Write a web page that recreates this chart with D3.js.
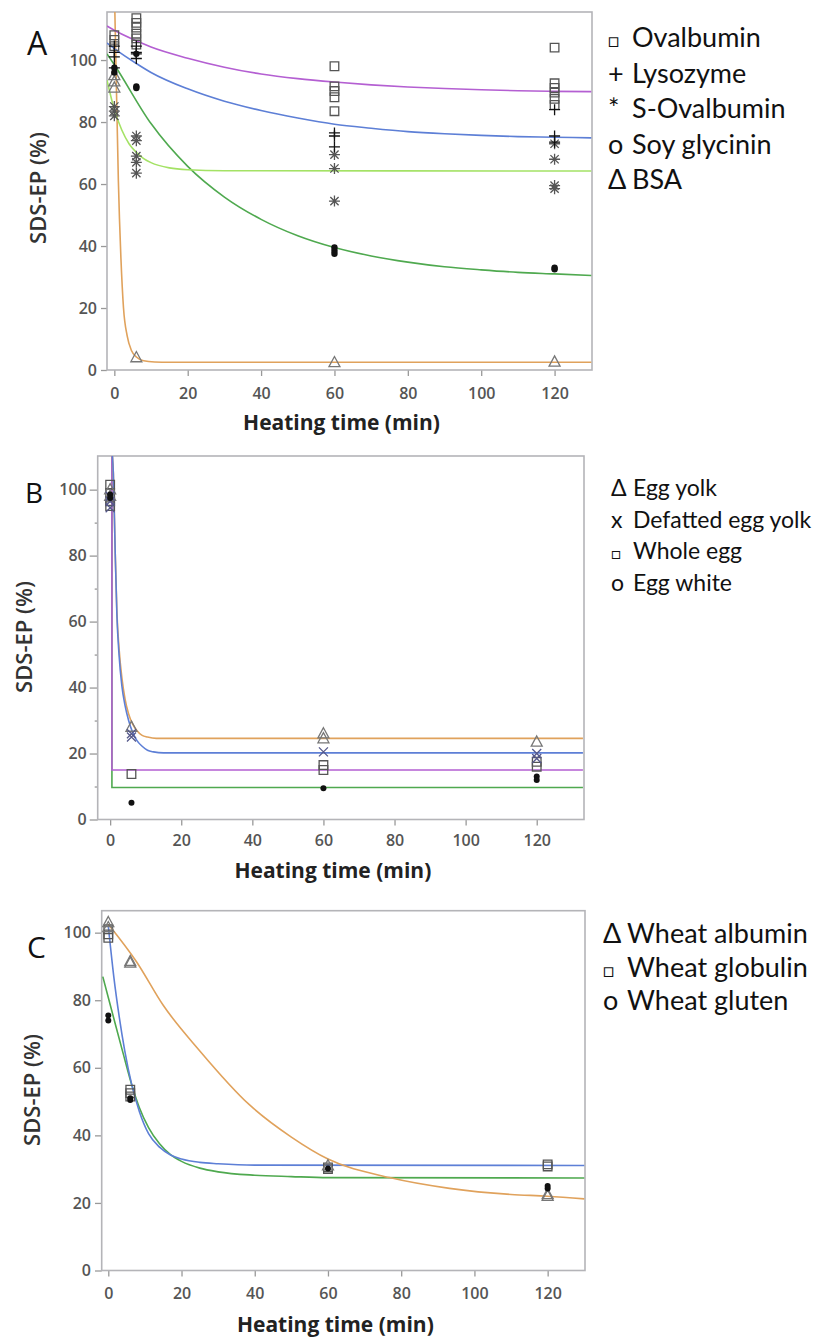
<!DOCTYPE html>
<html>
<head>
<meta charset="utf-8">
<script src="https://cdn.jsdelivr.net/npm/d3@7"></script>
<style>
  body { margin: 0; background: #fff; }
  svg { display: block; }
</style>
</head>
<body>
<svg id="chart" width="826" height="1341"></svg>
<script>
// ---------- panel A : pure proteins  ([heating time (min), SDS-EP (%)])
const xTicks = [0, 20, 40, 60, 80, 100, 120];
const yTicks = [0, 20, 40, 60, 80, 100];
const yMinorB = [10, 30, 50, 70, 90];

const ovalbuminA = [[0,108],[0,106.5],[0,104.5],[6,113.5],[6,112],[6,110.5],[6,108.5],[6,107],[6,105],
  [60,98],[60,91.5],[60,90],[60,88],[60,83.5],[120,104],[120,92.5],[120,91],[120,89.5],[120,87.5],[120,85.5]];
const lysozymeA = [[0,104.5],[0,102.5],[0,101],[0,97.5],[6,104.5],[6,102.5],[6,102],[6,100.5],
  [60,76.5],[60,75.5],[60,72],[120,84],[120,75.5],[120,73.5]];
const sOvalbuminA = [[0,85],[0,83.5],[0,82],[6,75.5],[6,74],[6,69],[6,67],[6,63.5],
  [60,69.5],[60,65],[60,54.5],[120,73],[120,68],[120,59.5],[120,58.5]];
const soyA = [[0,97.5],[0,96],[6,102],[6,91.5],[6,91],[60,39.5],[60,38.5],[60,37.5],[120,33],[120,32.5]];
const bsaA = [[0,95],[0,93],[0,91],[6,4],[60,2.4],[120,2.6]];

// fitted curves
const ovalbuminFitA = [[-2,111],[0,109.6],[6,106.2],[10,104.2],[20,100.6],[30,97.7],[40,95.5],[50,94],[60,92.9],
  [70,92],[80,91.3],[90,90.8],[100,90.4],[110,90.1],[120,89.9],[130,89.8]];
const lysozymeFitA = [[-2,105.5],[0,103.7],[6,98.9],[10,96],[20,90.7],[30,86.7],[40,83.7],[50,81.3],[60,79.3],
  [70,78],[80,76.9],[90,76.2],[100,75.7],[110,75.3],[120,75.1],[130,74.9]];
const sOvalbuminFitA = [[-2,93.5],[0,84],[2,77.5],[4,73],[6,70.2],[8,68.2],[10,66.9],[15,65.2],[20,64.6],[30,64.3],[130,64.2]];
const soyFitA = [[-2,102],[0,98.5],[10,79.5],[20,65.7],[30,55.8],[40,48.6],[50,43.3],[60,39.5],[70,36.8],
  [80,34.8],[90,33.3],[100,32.3],[110,31.5],[120,31],[130,30.5]];
const bsaFitA = [[0.1,118],[0.5,95],[1.1,61],[1.8,36],[2.5,20],[3.5,11],[4.7,6.2],[6,4.2],[8,3],[11,2.6],[15,2.5],[130,2.5]];

// ---------- panel B : egg fractions
const eggYolkB = [[0,100],[0,98],[6,28],[60,26],[60,24.5],[120,23.5]];
const defattedB = [[0,98],[0,96.5],[0,94.5],[6,26],[6,25],[60,20.5],[120,20],[120,18.5]];
const wholeEggB = [[0,101.5],[0,99],[0,96.5],[0,95],[6,13.8],[60,16.5],[60,15],[120,17.5],[120,16]];
const eggWhiteB = [[0,98.5],[0,97.5],[6,5.1],[60,9.5],[120,13],[120,12]];

const eggYolkFitB = [[0.5,112],[0.9,105],[1.4,82],[1.9,63],[2.5,52],[3.3,43],[4.2,36.5],[5.2,32],[6.3,29],
  [7.5,27],[9,25.5],[10.5,25],[13,24.6],[133,24.6]];
const defattedFitB = [[0.5,112],[0.9,105],[1.4,82],[1.9,62],[2.5,50],[3.3,40.5],[4.2,34.5],[5.2,30],[6.3,26.5],
  [7.5,24],[9,22.2],[10.5,21],[12.2,20.5],[15,20.2],[133,20.2]];
const wholeEggFitB = [[0.5,112],[0.5,15],[133,15]];
const eggWhiteFitB = [[0.5,112],[0.5,9.7],[133,9.7]];

// ---------- panel C : wheat fractions
const albuminC = [[0,103],[0,101.5],[6,91.5],[6,91],[60,31],[120,22.5],[120,22]];
const globulinC = [[0,101],[0,99.5],[0,98.5],[6,53.5],[6,52.5],[6,51.5],[60,30.5],[60,30],[120,31.4],[120,30.8]];
const glutenC = [[0,75.5],[0,74],[6,51],[6,50.5],[60,30.2],[120,25],[120,24.3]];

const albuminFitC = [[0,102.5],[7.7,91.4],[15,78.5],[25,65],[38.6,49],[50,39.5],[60,33],[76.8,27.5],
  [93.2,24.3],[110,22.5],[120,22],[130,21.2]];
const globulinFitC = [[0,102],[1.5,87],[3,75],[4.5,65],[6.4,55],[8.5,47],[11,40.5],[14,36.5],[17,34.2],
  [20,33],[25,32],[30,31.6],[40,31.2],[130,31.1]];
const glutenFitC = [[-1.5,87],[0,80.8],[2,72.6],[4,64.5],[6.4,55],[8.5,48.2],[11,42.3],[14,37.5],[17,34.3],
  [20,32.3],[25,30.3],[30,29.2],[40,28.2],[50,27.8],[60,27.5],[130,27.4]];

const legendA = [["\u25A1","Ovalbumin"],["+","Lysozyme"],["*","S-Ovalbumin"],["o","Soy glycinin"],["\u0394","BSA"]];
const legendB = [["\u0394","Egg yolk"],["x","Defatted egg yolk"],["\u25A1","Whole egg"],["o","Egg white"]];
const legendC = [["\u0394","Wheat albumin"],["\u25A1","Wheat globulin"],["o","Wheat gluten"]];

const col = {purple:"#b45fd2", blue:"#5d7fd6", lime:"#a4e265", green:"#4fa94f", orange:"#e0a25c"};

const svg = d3.select("#chart");

function markerPath(type, s) {
  if (type == "square") return `M${-s},${-s}h${2*s}v${2*s}h${-2*s}Z`;
  if (type == "triangle") return `M0,${-s*1.1}L${s},${s*0.75}L${-s},${s*0.75}Z`;
  if (type == "plus") return `M${-s},0H${s}M0,${-s}V${s}`;
  if (type == "times") return `M${-s},${-s}L${s},${s}M${-s},${s}L${s},${-s}`;
  if (type == "asterisk") { const t = s*0.75; return `M${-s},0H${s}M0,${-s}V${s}M${-t},${-t}L${t},${t}M${-t},${t}L${t},${-t}`; }
  return d3.symbol(d3.symbolCircle, Math.PI*s*s)();
}

const markerStyle = {
  square:   {fill:"none", stroke:"#555"},
  triangle: {fill:"none", stroke:"#777"},
  plus:     {fill:"none", stroke:"#111"},
  times:    {fill:"none", stroke:"#55588a"},
  asterisk: {fill:"none", stroke:"#555"},
  circle:   {fill:"#111", stroke:"none"}
};

function drawPanel(p) {
  var x = d3.scaleLinear().domain(p.xDomain).range([p.left, p.right]);
  var y = d3.scaleLinear().domain(p.yDomain).range([p.bottom, p.top]);
  var g = svg.append("g");

  svg.append("clipPath").attr("id", "clip"+p.name)
    .append("rect").attr("x", p.left).attr("y", p.top)
    .attr("width", p.right-p.left).attr("height", p.bottom-p.top);

  // y axis
  g.append("g").attr("transform", "translate("+p.left+",0)")
    .call(d3.axisLeft(y).tickValues(yTicks).tickSize(p.yTick).tickPadding(p.yPad));
  if (p.yMinor) {
    g.append("g").attr("transform", "translate("+p.left+",0)")
      .call(d3.axisLeft(y).tickValues(p.yMinor).tickSize(3).tickFormat(""));
  }
  // x axis
  g.append("g").attr("transform", "translate(0,"+p.bottom+")")
    .call(d3.axisBottom(x).tickValues(xTicks).tickSize(6).tickPadding(p.xPad));

  g.selectAll(".domain").remove();
  g.selectAll(".tick line").attr("stroke", "#999").attr("stroke-width", 1.3);
  g.selectAll(".tick text").attr("font-family", "Open Sans").attr("font-weight", 600)
    .attr("font-size", 16).attr("fill", "#555");

  // frame
  g.append("rect").attr("x", p.left).attr("y", p.top)
    .attr("width", p.right-p.left).attr("height", p.bottom-p.top)
    .attr("fill", "none").attr("stroke", "#b4b4b8").attr("stroke-width", 1.6);

  // fitted curves
  var line = d3.line().x(d => x(d[0])).y(d => y(d[1]));
  g.append("g").attr("clip-path", "url(#clip"+p.name+")")
    .selectAll("path").data(p.fits).enter().append("path")
    .attr("d", d => line.curve(d.step ? d3.curveLinear : d3.curveMonotoneX)(d.data))
    .attr("fill", "none").attr("stroke", d => d.color).attr("stroke-width", 1.6);

  // measured points
  p.series.forEach(s => {
    g.append("g").selectAll("path").data(s.data).enter().append("path")
      .attr("transform", d => "translate("+x(d[0])+","+y(d[1])+")")
      .attr("d", markerPath(s.marker, s.size))
      .attr("fill", markerStyle[s.marker].fill)
      .attr("stroke", markerStyle[s.marker].stroke)
      .attr("stroke-width", 1.3);
  });

  // titles
  g.append("text").attr("x", p.letterX).attr("y", p.letterY)
    .attr("font-family", "Open Sans").attr("font-size", p.letterSize).attr("fill", "#111")
    .text(p.name);
  g.append("text").attr("x", (p.left+p.right)/2 - 8).attr("y", p.xTitleY)
    .attr("text-anchor", "middle").attr("font-family", "Open Sans").attr("font-weight", 700)
    .attr("font-size", 21).attr("fill", "#222").text("Heating time (min)");
  g.append("text").attr("transform", "translate("+p.yTitleX+","+p.yTitleY+") rotate(-90)")
    .attr("text-anchor", "middle").attr("font-family", "Open Sans").attr("font-weight", 600)
    .attr("font-size", 22).attr("fill", "#333").text("SDS-EP (%)");

  // legend
  var lg = g.append("g").attr("font-family", "Lato").attr("font-size", p.legendSize).attr("fill", "#111");
  p.legend.forEach((d, i) => {
    var t = lg.append("text").attr("y", p.legendY + i*p.legendStep);
    t.append("tspan").attr("x", p.legendX)
      .attr("font-size", d[0] == "\u25A1" ? p.legendSize*0.7 : p.legendSize).text(d[0]);
    t.append("tspan").attr("x", p.legendX + p.legendGap).text(d[1]);
  });
}

drawPanel({
  name:"A", xDomain:[-2,130.2], yDomain:[0,115.5], left:107, right:592, top:12, bottom:370,
  yTick:6, yPad:4, xPad:12, letterX:27, letterY:55, letterSize:32,
  xTitleY:430, yTitleX:46, yTitleY:188,
  legend:legendA, legendX:608, legendGap:24, legendY:47, legendStep:35.5, legendSize:27,
  fits:[{data:bsaFitA,color:col.orange},{data:soyFitA,color:col.green},{data:sOvalbuminFitA,color:col.lime},
        {data:lysozymeFitA,color:col.blue},{data:ovalbuminFitA,color:col.purple}],
  series:[{data:ovalbuminA,marker:"square",size:4.3},{data:sOvalbuminA,marker:"asterisk",size:5.5},
          {data:bsaA,marker:"triangle",size:5.5},{data:lysozymeA,marker:"plus",size:5.5},
          {data:soyA,marker:"circle",size:3.2}]
});

drawPanel({
  name:"B", xDomain:[-3.5,133.3], yDomain:[0,110.2], left:97.7, right:584, top:456, bottom:819.5,
  yTick:8, yPad:3, xPad:9.5, yMinor:yMinorB, letterX:25, letterY:503, letterSize:28,
  xTitleY:878, yTitleX:32, yTitleY:637,
  legend:legendB, legendX:611, legendGap:22, legendY:496, legendStep:31.5, legendSize:23,
  fits:[{data:eggWhiteFitB,color:col.green,step:true},{data:wholeEggFitB,color:col.purple,step:true},
        {data:eggYolkFitB,color:col.orange},{data:defattedFitB,color:col.blue}],
  series:[{data:wholeEggB,marker:"square",size:4.3},{data:eggYolkB,marker:"triangle",size:5.5},
          {data:defattedB,marker:"times",size:4.5},{data:eggWhiteB,marker:"circle",size:3}]
});

drawPanel({
  name:"C", xDomain:[-1.8,130.2], yDomain:[0,106.5], left:101.7, right:585, top:910.7, bottom:1270.5,
  yTick:6.7, yPad:4, xPad:11.5, letterX:27, letterY:958, letterSize:30,
  xTitleY:1332, yTitleX:40, yTitleY:1090,
  legend:legendC, legendX:603, legendGap:24, legendY:943, legendStep:33.5, legendSize:27,
  fits:[{data:glutenFitC,color:col.green},{data:globulinFitC,color:col.blue},{data:albuminFitC,color:col.orange}],
  series:[{data:globulinC,marker:"square",size:4.3},{data:albuminC,marker:"triangle",size:5.5},
          {data:glutenC,marker:"circle",size:3}]
});
</script>
</body>
</html>
